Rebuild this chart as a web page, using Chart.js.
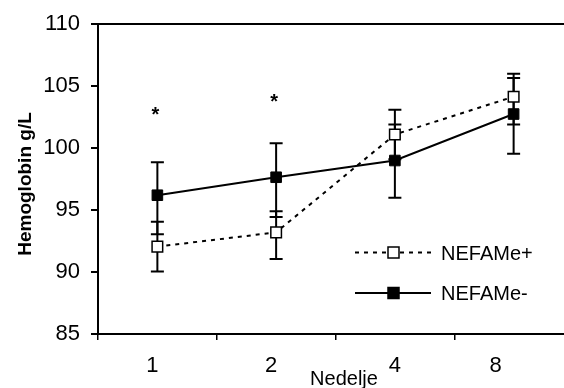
<!DOCTYPE html>
<html>
<head>
<meta charset="utf-8">
<script src="https://cdn.jsdelivr.net/npm/chart.js@4.4.1/dist/chart.umd.min.js"></script>
<style>
    html, body { margin: 0; padding: 0; background: #fff; overflow: hidden; }
    canvas { display: block; }
</style>
</head>
<body>
<canvas id="hbChart" width="582" height="388"></canvas>
<script>
// weeks
const categories = ['1', '2', '4', '8'];

// NEFAMe+ (open squares, dotted line)
const nefaPlus = [92.05, 93.2, 101.1, 104.15];
const nefaPlusHi = [94.05, 94.9, 103.1, 106.0];
const nefaPlusLo = [90.05, 91.05, 99.1, 101.9];

// NEFAMe- (filled squares, solid line)
const nefaMinus = [96.2, 97.65, 99.0, 102.75];
const nefaMinusHi = [98.85, 100.4, 101.9, 105.65];
const nefaMinusLo = [93.05, 94.45, 96.0, 99.55];

// significance markers
const sigCategories = ['1', '2'];
const sigValues = [102.9, 104.0];

const yTicks = [85, 90, 95, 100, 105, 110];

const FONT = "'Liberation Sans', Arial, sans-serif";
const xLabelShift = [-5, -5, 0, -18];

const extrasPlugin = {
    id: 'extras',
    beforeDatasetsDraw(chart) {
        const ctx = chart.ctx;
        const x = chart.scales.x, y = chart.scales.y;
        ctx.save();
        ctx.strokeStyle = '#000';
        ctx.lineWidth = 2;
        [[nefaPlusHi, nefaPlusLo], [nefaMinusHi, nefaMinusLo]].forEach(([hi, lo]) => {
            categories.forEach((c, i) => {
                const px = x.getPixelForValue(i);
                const top = y.getPixelForValue(hi[i]);
                const bot = y.getPixelForValue(lo[i]);
                ctx.beginPath();
                ctx.moveTo(px, top);
                ctx.lineTo(px, bot);
                ctx.moveTo(px - 6.5, top);
                ctx.lineTo(px + 6.5, top);
                ctx.moveTo(px - 6.5, bot);
                ctx.lineTo(px + 6.5, bot);
                ctx.stroke();
            });
        });
        ctx.restore();
    },
    afterDraw(chart) {
        const ctx = chart.ctx;
        const x = chart.scales.x, y = chart.scales.y;
        ctx.save();
        ctx.fillStyle = '#000';

        // x tick labels
        ctx.font = '22px ' + FONT;
        ctx.textAlign = 'center';
        ctx.textBaseline = 'alphabetic';
        categories.forEach((c, i) => {
            ctx.fillText(c, x.getPixelForValue(i) + xLabelShift[i], 372);
        });

        // axis titles
        ctx.font = '20px ' + FONT;
        ctx.fillText('Nedelje', 344, 385);
        ctx.save();
        ctx.translate(31, 184);
        ctx.rotate(-Math.PI / 2);
        ctx.font = 'bold 19px ' + FONT;
        ctx.fillText('Hemoglobin g/L', 0, 0);
        ctx.restore();

        // asterisks
        ctx.font = 'bold 20px ' + FONT;
        sigCategories.forEach((c, i) => {
            const idx = categories.indexOf(c);
            ctx.fillText('*', x.getPixelForValue(idx) - 2, y.getPixelForValue(sigValues[i]) + 9);
        });

        // legend
        ctx.font = '20px ' + FONT;
        const rows = [
            {label: chart.data.datasets[0].label, dash: [4, 5], fill: '#fff', y: 252.5},
            {label: chart.data.datasets[1].label, dash: [], fill: '#000', y: 293}
        ];
        rows.forEach(r => {
            ctx.save();
            ctx.strokeStyle = '#000';
            ctx.lineWidth = 2;
            ctx.setLineDash(r.dash);
            ctx.beginPath();
            ctx.moveTo(355, r.y);
            ctx.lineTo(431, r.y);
            ctx.stroke();
            ctx.setLineDash([]);
            ctx.fillStyle = r.fill;
            ctx.lineWidth = 1.5;
            ctx.fillRect(388, r.y - 5.5, 11, 11);
            ctx.strokeRect(388, r.y - 5.5, 11, 11);
            ctx.restore();
            ctx.textAlign = 'left';
            ctx.fillText(r.label, 441, r.y + 7);
        });
        ctx.restore();
    }
};

const ctx = document.getElementById('hbChart').getContext('2d');
const myChart = new Chart(ctx, {
    type: 'line',
    data: {
        labels: categories,
        datasets: [{
            label: 'NEFAMe+',
            data: nefaPlus,
            borderColor: '#000',
            borderWidth: 2,
            borderDash: [4, 5],
            pointStyle: 'rect',
            pointRadius: 7.5,
            pointBackgroundColor: '#fff',
            pointBorderColor: '#000',
            pointBorderWidth: 1.5,
            tension: 0
        }, {
            label: 'NEFAMe-',
            data: nefaMinus,
            borderColor: '#000',
            borderWidth: 2,
            pointStyle: 'rect',
            pointRadius: 7.5,
            pointBackgroundColor: '#000',
            pointBorderColor: '#000',
            pointBorderWidth: 1,
            tension: 0
        }]
    },
    options: {
        responsive: false,
        animation: false,
        layout: {padding: {top: 21, left: 0, right: 0, bottom: 0}},
        plugins: {
            legend: {display: false},
            tooltip: {enabled: false}
        },
        scales: {
            x: {
                type: 'category',
                offset: true,
                grid: {offset: true, drawOnChartArea: false, tickLength: 6, color: '#000', lineWidth: 1.5},
                border: {color: '#000', width: 2},
                ticks: {display: false},
                afterFit: s => { s.height = 54; }
            },
            y: {
                min: 85,
                max: 110,
                afterBuildTicks: s => { s.ticks = yTicks.map(v => ({value: v})); },
                ticks: {color: '#000', padding: 11, font: {size: 22, family: FONT}},
                grid: {
                    color: c => (c.tick && c.tick.value === 110 ? '#000' : 'rgba(0,0,0,0)'),
                    tickColor: '#000',
                    tickLength: 7,
                    lineWidth: 2
                },
                border: {color: '#000', width: 2},
                afterFit: s => { s.width = 98; }
            }
        }
    },
    plugins: [extrasPlugin]
});
</script>
</body>
</html>
